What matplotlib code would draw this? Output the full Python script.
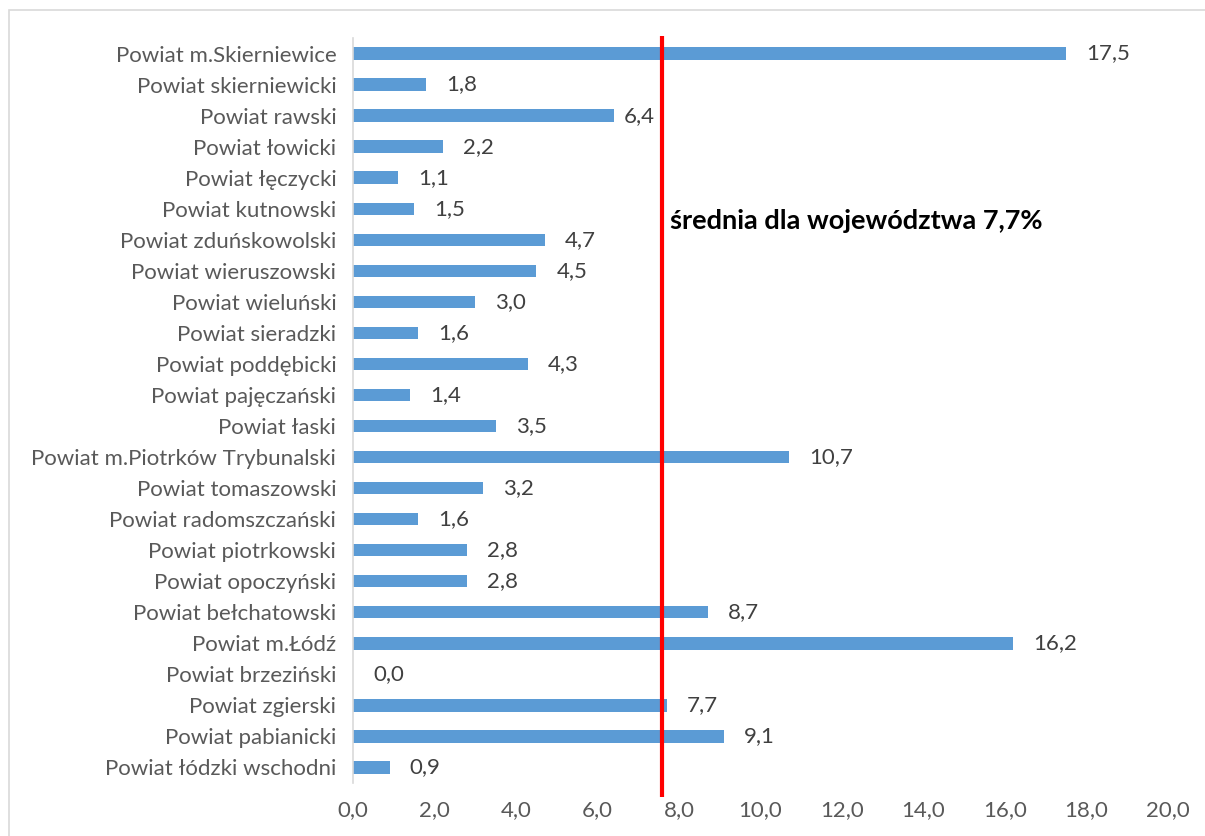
import matplotlib.pyplot as plt
from matplotlib.patches import Rectangle

# dane - od góry do dołu
powiaty = [
    "Powiat m.Skierniewice", "Powiat skierniewicki", "Powiat rawski", "Powiat łowicki",
    "Powiat łęczycki", "Powiat kutnowski", "Powiat zduńskowolski", "Powiat wieruszowski",
    "Powiat wieluński", "Powiat sieradzki", "Powiat poddębicki", "Powiat pajęczański",
    "Powiat łaski", "Powiat m.Piotrków Trybunalski", "Powiat tomaszowski",
    "Powiat radomszczański", "Powiat piotrkowski", "Powiat opoczyński",
    "Powiat bełchatowski", "Powiat m.Łódź", "Powiat brzeziński", "Powiat zgierski",
    "Powiat pabianicki", "Powiat łódzki wschodni",
]
wartosci = [17.5, 1.8, 6.4, 2.2, 1.1, 1.5, 4.7, 4.5, 3.0, 1.6, 4.3, 1.4, 3.5, 10.7,
            3.2, 1.6, 2.8, 2.8, 8.7, 16.2, 0.0, 7.7, 9.1, 0.9]
srednia = 7.58
xticks = [0, 2, 4, 6, 8, 10, 12, 14, 16, 18, 20]

plt.rcParams['font.family'] = ['Lato', 'DejaVu Sans']

fig = plt.figure(figsize=(12.05, 8.36), dpi=100)
# ramka wykresu
fig.patches.append(Rectangle((9 / 1205, -0.01), 1.02, 1 - 10 / 836 + 0.01,
                             transform=fig.transFigure, fill=False,
                             edgecolor='#D9D9D9', linewidth=1.2))

ax = fig.add_axes([353 / 1205, 1 - 783 / 836, 815 / 1205, 745 / 836])
y = list(range(len(powiaty)))
ax.barh(y, wartosci, height=0.4, color='#5B9BD5', zorder=2)
ax.set_ylim(len(powiaty) - 0.5, -0.5)
ax.set_xlim(0, 20)

for yi, v in zip(y, wartosci):
    # etykieta 6,4 przesunieta blizej slupka, zeby nie wchodzila na linie
    dx = 10 if srednia - 1.5 < v < srednia - 0.5 else 20
    ax.annotate(f"{v:.1f}".replace('.', ','), (v, yi), xytext=(dx, 0),
                textcoords='offset pixels', va='center', ha='left',
                fontsize=16, color='#404040')

ax.set_yticks(y)
ax.set_yticklabels(powiaty, fontsize=16, color='#595959')
ax.set_xticks(xticks)
ax.set_xticklabels([f"{t:.1f}".replace('.', ',') for t in xticks], fontsize=16, color='#595959')
ax.tick_params(axis='both', length=0)
ax.tick_params(axis='x', pad=12)
ax.tick_params(axis='y', pad=12)

for s in ['top', 'right', 'bottom']:
    ax.spines[s].set_visible(False)
ax.spines['left'].set_color('#D9D9D9')
ax.spines['left'].set_linewidth(1.2)

# linia średniej
ax.plot([srednia, srednia], [-0.55, len(powiaty) - 0.5 + 0.45], color='#FF0000',
        linewidth=3, zorder=3, clip_on=False, solid_capstyle='butt')
ax.text(srednia + 0.2, 5.4, "średnia dla województwa 7,7%", fontsize=19.5,
        fontweight='bold', color='black', va='center', ha='left')

fig.savefig('out.png', dpi=100)
